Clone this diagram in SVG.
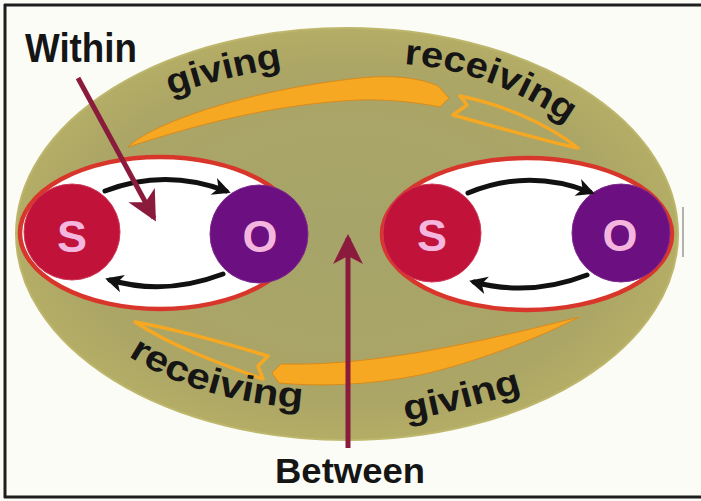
<svg xmlns="http://www.w3.org/2000/svg" width="701" height="501" viewBox="0 0 701 501">
<defs>
<style>
.lbl{font-family:"Liberation Sans",Arial,Helvetica,sans-serif;font-weight:bold;fill:#151515;}
.band{fill:#f6a823;stroke:#d98b1c;stroke-width:1;}
.hollow{fill:none;stroke:#f6a823;stroke-width:3.5;stroke-linejoin:round;}
.inner{fill:#ffffff;stroke:#d9362b;stroke-width:4.5;}
.s{fill:#c1123a;stroke:#cf3a58;stroke-width:1;}
.o{fill:#6c0f80;stroke:#7d2a8c;stroke-width:1;}
.letter{font-family:"Liberation Sans",Arial,Helvetica,sans-serif;font-weight:bold;font-size:45px;fill:#f4b6de;text-anchor:middle;}
.blk{fill:none;stroke:#111111;stroke-width:5;stroke-linecap:round;}
.mar{fill:none;stroke:#8a1b3c;stroke-width:5;}
</style>
<radialGradient id="olive" cx="0.5" cy="0.5" r="0.5">
<stop offset="0" stop-color="#a6a46a"/>
<stop offset="0.8" stop-color="#aba566"/>
<stop offset="1" stop-color="#b4ad66"/>
</radialGradient>
<marker id="ah" viewBox="0 0 20 20" refX="14" refY="10" markerWidth="20" markerHeight="20" markerUnits="userSpaceOnUse" orient="auto">
<path d="M1,1 L19,10 L1,19 L6,10 Z" fill="#111111"/>
</marker>
<marker id="mh" viewBox="0 0 32 32" refX="26" refY="16" markerWidth="32" markerHeight="32" markerUnits="userSpaceOnUse" orient="auto">
<path d="M0,1 L30,16 L0,31 L8,16 Z" fill="#8a1b3c"/>
</marker>
<path id="tg" d="M170,95 Q228,76 290,66"/>
<path id="tr" d="M404,64 Q490,70 568,124"/>
<path id="br" d="M128,356 Q196,400 300,408"/>
<path id="bg" d="M406,421 Q462,410 528,390"/>
</defs>

<rect x="0" y="0" width="701" height="501" fill="#fcfcf7"/>
<g id="frame" stroke="#1e1e1e" stroke-width="3" fill="none">
<line x1="4" y1="5" x2="701" y2="5"/>
<line x1="5" y1="4" x2="5" y2="498"/>
<line x1="4" y1="497" x2="701" y2="497"/>
</g>
<line x1="683" y1="207" x2="683" y2="257" stroke="#9a9a9a" stroke-width="1.5"/>

<g id="between-field">
<ellipse cx="347" cy="234" rx="331" ry="206" fill="url(#olive)" stroke="#bdb66c" stroke-width="2"/>
</g>

<g id="flow-top">
<path class="band" d="M128,147 C150,125 240,91 360,78 C400,74 425,80 438,86 L449,98 L440,107 C420,103 390,99 360,100 C270,104 190,127 128,147 Z"/>
<path class="hollow" d="M460,96 C500,104 545,122 578,148 C545,141 500,128 453,115 L467,105 Z"/>
</g>
<g id="flow-bottom">
<path class="band" d="M272,373 L281,364 C360,366 450,350 579,317 C540,338 470,364 420,375 C370,385 320,387 279,383 Z"/>
<path class="hollow" d="M135,322 C180,330 225,343 268,356 L258,366 L263,379 C215,362 170,345 135,322 Z"/>
</g>

<g id="left-pair">
<ellipse class="inner" cx="160" cy="233" rx="140" ry="76"/>
<g id="left-S"><circle class="s" cx="72" cy="232" r="48"/><text class="letter" x="72" y="252">S</text></g>
<g id="left-O"><circle class="o" cx="259" cy="234" r="49"/><text class="letter" x="260" y="252">O</text></g>
</g>
<g id="right-pair">
<ellipse class="inner" cx="527" cy="234" rx="145" ry="76"/>
<g id="right-S"><circle class="s" cx="432" cy="233" r="49"/><text class="letter" x="432" y="251">S</text></g>
<g id="right-O"><circle class="o" cx="621" cy="233" r="49"/><text class="letter" x="620" y="251">O</text></g>
</g>

<g id="connectors">
<path class="blk" d="M105,191 Q165,168 226,191" marker-end="url(#ah)"/>
<path class="blk" d="M223,274 Q165,296 110,280" marker-end="url(#ah)"/>
<path class="blk" d="M468,193 Q528,168 590,192" marker-end="url(#ah)"/>
<path class="blk" d="M587,275 Q530,297 474,282" marker-end="url(#ah)"/>
<path class="mar" d="M78,78 L154,218" marker-end="url(#mh)"/>
<path class="mar" d="M348,448 L348,238" marker-end="url(#mh)"/>
</g>

<g id="labels">
<text class="lbl" x="25" y="62" font-size="40" textLength="112" lengthAdjust="spacingAndGlyphs">Within</text>
<text class="lbl" x="275" y="483" font-size="35" textLength="150" lengthAdjust="spacingAndGlyphs">Between</text>
<text class="lbl" font-size="36"><textPath href="#tg" textLength="116" lengthAdjust="spacingAndGlyphs">giving</textPath></text>
<text class="lbl" font-size="36"><textPath href="#tr" textLength="176" lengthAdjust="spacingAndGlyphs">receiving</textPath></text>
<text class="lbl" font-size="36"><textPath href="#br" textLength="184" lengthAdjust="spacingAndGlyphs">receiving</textPath></text>
<text class="lbl" font-size="36"><textPath href="#bg" textLength="120" lengthAdjust="spacingAndGlyphs">giving</textPath></text>
</g>
</svg>
